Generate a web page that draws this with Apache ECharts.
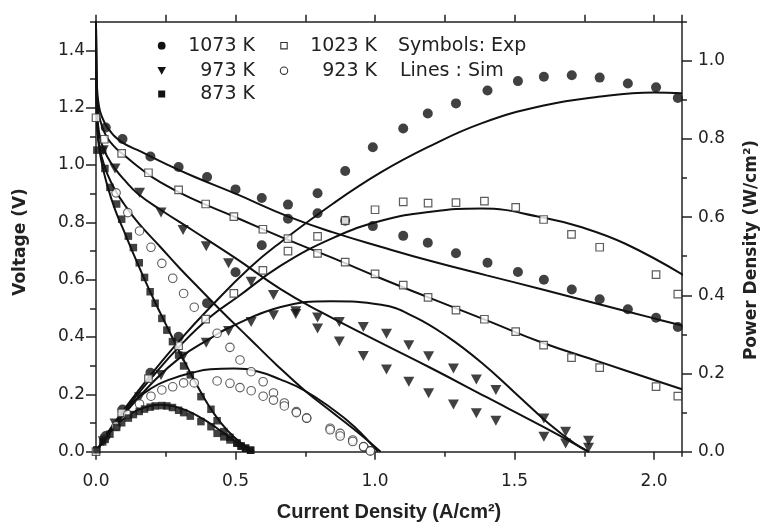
<!DOCTYPE html>
<html>
<head>
<meta charset="utf-8">
<script src="https://cdn.jsdelivr.net/npm/echarts@6/dist/echarts.min.js"></script>
<style>
  html, body { margin: 0; padding: 0; background: #fff; }
  #chart { width: 766px; height: 530px; }
</style>
</head>
<body>
<div id="chart"></div>
<script>
// ---- Experimental data (symbols): current density (A/cm2), voltage (V), power density (W/cm2)
const I1073 = [0.035, 0.095, 0.195, 0.296, 0.398, 0.5, 0.594, 0.688, 0.794, 0.893, 0.992, 1.101, 1.189, 1.29, 1.403, 1.512, 1.605, 1.705, 1.805, 1.906, 2.007, 2.085];
const V1073 = [1.131, 1.091, 1.030, 0.993, 0.958, 0.915, 0.885, 0.862, 0.832, 0.806, 0.787, 0.753, 0.729, 0.692, 0.659, 0.627, 0.600, 0.566, 0.532, 0.497, 0.467, 0.435];
const P1073 = [0.040, 0.108, 0.202, 0.294, 0.380, 0.459, 0.528, 0.596, 0.661, 0.718, 0.779, 0.827, 0.865, 0.891, 0.924, 0.948, 0.959, 0.963, 0.957, 0.942, 0.932, 0.905];

const I1023 = [0.0, 0.03, 0.092, 0.188, 0.296, 0.393, 0.494, 0.598, 0.688, 0.794, 0.893, 1.0, 1.101, 1.19, 1.29, 1.392, 1.504, 1.604, 1.704, 1.805, 2.007, 2.085];
const V1023 = [1.165, 1.09, 1.041, 0.973, 0.913, 0.864, 0.82, 0.776, 0.743, 0.692, 0.661, 0.62, 0.581, 0.538, 0.494, 0.462, 0.419, 0.372, 0.328, 0.293, 0.227, 0.194];
const P1023 = [0.0, 0.033, 0.0995, 0.187, 0.271, 0.339, 0.405, 0.464, 0.513, 0.551, 0.591, 0.619, 0.639, 0.636, 0.637, 0.641, 0.625, 0.594, 0.556, 0.523, 0.453, 0.403];

const I973 = [0.026, 0.068, 0.156, 0.233, 0.312, 0.395, 0.475, 0.556, 0.636, 0.716, 0.794, 0.872, 0.958, 1.041, 1.121, 1.192, 1.281, 1.363, 1.433, 1.605, 1.683, 1.765];
const V973 = [1.052, 0.988, 0.903, 0.834, 0.773, 0.717, 0.657, 0.593, 0.547, 0.490, 0.430, 0.384, 0.334, 0.287, 0.244, 0.204, 0.165, 0.134, 0.108, 0.052, 0.029, 0.014];
const P973 = [0.027, 0.072, 0.139, 0.196, 0.243, 0.279, 0.309, 0.332, 0.349, 0.352, 0.343, 0.332, 0.319, 0.302, 0.272, 0.244, 0.213, 0.185, 0.158, 0.085, 0.051, 0.028];

const I923 = [0.072, 0.114, 0.156, 0.197, 0.236, 0.275, 0.314, 0.352, 0.434, 0.48, 0.516, 0.556, 0.599, 0.636, 0.675, 0.718, 0.755, 0.839, 0.875, 0.92, 0.959, 0.983];
const V923 = [0.903, 0.834, 0.770, 0.713, 0.657, 0.605, 0.552, 0.504, 0.413, 0.364, 0.320, 0.279, 0.244, 0.205, 0.170, 0.140, 0.117, 0.082, 0.064, 0.041, 0.017, 0.003];
const P923 = [0.066, 0.095, 0.122, 0.142, 0.158, 0.166, 0.176, 0.176, 0.181, 0.175, 0.164, 0.156, 0.142, 0.132, 0.117, 0.100, 0.086, 0.056, 0.040, 0.026, 0.013, 0.002];

const I873 = [0.003, 0.024, 0.032, 0.05, 0.074, 0.092, 0.116, 0.134, 0.155, 0.174, 0.194, 0.212, 0.236, 0.254, 0.274, 0.296, 0.314, 0.338, 0.376, 0.412, 0.434, 0.458, 0.48, 0.505, 0.52, 0.536, 0.554];
const V873 = [1.052, 1.052, 0.988, 0.922, 0.864, 0.811, 0.752, 0.712, 0.659, 0.608, 0.558, 0.518, 0.465, 0.424, 0.384, 0.337, 0.299, 0.268, 0.192, 0.148, 0.108, 0.070, 0.050, 0.030, 0.020, 0.012, 0.005];
const P873 = [0.005, 0.025, 0.033, 0.045, 0.062, 0.074, 0.086, 0.095, 0.103, 0.109, 0.114, 0.117, 0.118, 0.117, 0.113, 0.106, 0.100, 0.091, 0.077, 0.064, 0.047, 0.038, 0.030, 0.022, 0.014, 0.009, 0.004];

// ---- Simulated curves (lines)
const simI1073V = [0, 0.002, 0.005, 0.01, 0.019, 0.043, 0.091, 0.163, 0.259, 0.35, 0.5, 0.69, 0.85, 1.02, 1.2, 1.4, 1.6, 1.8, 2.0, 2.1];
const simV1073  = [1.5, 1.31, 1.25, 1.21, 1.174, 1.128, 1.081, 1.046, 1.0, 0.96, 0.9, 0.82, 0.765, 0.715, 0.665, 0.615, 0.566, 0.515, 0.465, 0.44];
const simI1023V = [0, 0.002, 0.005, 0.01, 0.02, 0.04, 0.07, 0.1, 0.15, 0.23, 0.35, 0.5, 0.66, 0.85, 1.02, 1.2, 1.4, 1.6, 1.8, 2.0, 2.1];
const simV1023  = [1.5, 1.28, 1.22, 1.18, 1.14, 1.095, 1.06, 1.035, 0.995, 0.94, 0.88, 0.818, 0.75, 0.675, 0.605, 0.535, 0.458, 0.38, 0.315, 0.25, 0.218];
const simI973V  = [0, 0.002, 0.005, 0.01, 0.02, 0.04, 0.07, 0.1, 0.15, 0.23, 0.35, 0.5, 0.66, 0.8, 1.0, 1.2, 1.4, 1.6, 1.765];
const simV973   = [1.5, 1.25, 1.17, 1.12, 1.075, 1.03, 0.985, 0.95, 0.9, 0.845, 0.77, 0.675, 0.568, 0.49, 0.39, 0.292, 0.19, 0.088, 0.0];
const simI923V  = [0, 0.002, 0.005, 0.01, 0.02, 0.04, 0.07, 0.1, 0.15, 0.23, 0.3, 0.374, 0.45, 0.55, 0.65, 0.75, 0.85, 0.95, 1.02];
const simV923   = [1.5, 1.22, 1.13, 1.08, 1.03, 0.97, 0.91, 0.865, 0.8, 0.715, 0.64, 0.566, 0.49, 0.395, 0.3, 0.212, 0.135, 0.058, 0.0];
const simI873V  = [0, 0.002, 0.005, 0.01, 0.02, 0.04, 0.07, 0.1, 0.13, 0.17, 0.21, 0.25, 0.29, 0.338, 0.38, 0.422, 0.47, 0.52, 0.566];
const simV873   = [1.5, 1.2, 1.12, 1.07, 1.01, 0.93, 0.84, 0.77, 0.7, 0.61, 0.525, 0.445, 0.366, 0.275, 0.2, 0.134, 0.075, 0.03, 0.0];

const simI1073P = [0, 0.05, 0.1, 0.2, 0.3, 0.41, 0.55, 0.662, 0.85, 1.022, 1.189, 1.381, 1.6, 1.8, 2.0, 2.1];
const simP1073  = [0, 0.057, 0.108, 0.2, 0.285, 0.37, 0.47, 0.536, 0.635, 0.715, 0.779, 0.84, 0.885, 0.908, 0.919, 0.917];
const simI1023P = [0, 0.05, 0.1, 0.2, 0.3, 0.41, 0.506, 0.662, 0.85, 1.022, 1.2, 1.381, 1.597, 1.741, 1.897, 2.107];
const simP1023  = [0, 0.055, 0.103, 0.19, 0.27, 0.345, 0.395, 0.476, 0.547, 0.591, 0.614, 0.622, 0.6, 0.574, 0.532, 0.451];
const simI973P  = [0, 0.05, 0.1, 0.2, 0.3, 0.41, 0.482, 0.662, 0.842, 1.022, 1.141, 1.262, 1.381, 1.501, 1.621, 1.717, 1.765];
const simP973   = [0, 0.05, 0.095, 0.175, 0.24, 0.29, 0.319, 0.37, 0.385, 0.376, 0.345, 0.293, 0.228, 0.151, 0.073, 0.02, 0];
const simI923P  = [0, 0.05, 0.116, 0.2, 0.266, 0.35, 0.41, 0.494, 0.58, 0.66, 0.746, 0.84, 0.926, 1.01];
const simP923   = [0, 0.05, 0.115, 0.163, 0.185, 0.203, 0.211, 0.213, 0.205, 0.185, 0.157, 0.113, 0.064, 0];
const simI873P  = [0, 0.03, 0.06, 0.1, 0.15, 0.2, 0.23, 0.28, 0.33, 0.38, 0.43, 0.48, 0.52, 0.566];
const simP873   = [0, 0.03, 0.058, 0.085, 0.107, 0.118, 0.12, 0.116, 0.104, 0.085, 0.062, 0.036, 0.016, 0];

// ---- Legend labels
const tempLabels = ['1073 K', '1023 K', '973 K', '923 K', '873 K'];
const noteLabels = ['Symbols: Exp', 'Lines : Sim'];

const pairs = (xs, ys) => xs.map((x, i) => [x, ys[i]]);

const INK = '#111';
const AXC = '#222';
const TICK_FONT = { fontFamily: 'DejaVu Sans', fontSize: 17, color: '#222' };

const markerStyles = {
  '1073 K': { symbol: 'circle', symbolSize: 10, symbolRotate: 0, itemStyle: { color: INK } },
  '1023 K': { symbol: 'rect', symbolSize: 7.5, symbolRotate: 0, itemStyle: { color: '#fff', borderColor: '#333', borderWidth: 1.2 } },
  '973 K':  { symbol: 'triangle', symbolSize: [11, 10], symbolRotate: 180, itemStyle: { color: INK } },
  '923 K':  { symbol: 'circle', symbolSize: 8.5, symbolRotate: 0, itemStyle: { color: '#fff', borderColor: '#333', borderWidth: 1.1 } },
  '873 K':  { symbol: 'rect', symbolSize: 7.5, symbolRotate: 0, itemStyle: { color: INK } }
};

const expSets = [
  ['1073 K', I1073, V1073, P1073],
  ['1023 K', I1023, V1023, P1023],
  ['973 K', I973, V973, P973],
  ['923 K', I923, V923, P923],
  ['873 K', I873, V873, P873]
];
const simSets = [
  [simI1073V, simV1073, simI1073P, simP1073],
  [simI1023V, simV1023, simI1023P, simP1023],
  [simI973V, simV973, simI973P, simP973],
  [simI923V, simV923, simI923P, simP923],
  [simI873V, simV873, simI873P, simP873]
];

const series = [];
simSets.forEach(([iv, v, ip, p]) => {
  const base = {
    type: 'line', showSymbol: false, smooth: 0.45,
    lineStyle: { color: INK, width: 2 }, z: 2, silent: true, clip: true
  };
  series.push(Object.assign({}, base, { xAxisIndex: 0, yAxisIndex: 0, data: pairs(iv, v) }));
  series.push(Object.assign({}, base, { xAxisIndex: 0, yAxisIndex: 1, data: pairs(ip, p) }));
});
expSets.forEach(([name, i, v, p]) => {
  const m = markerStyles[name];
  const base = {
    type: 'scatter', name: name, symbol: m.symbol, symbolSize: m.symbolSize,
    symbolRotate: m.symbolRotate, itemStyle: m.itemStyle, z: 3, silent: true
  };
  series.push(Object.assign({}, base, { xAxisIndex: 0, yAxisIndex: 0, data: pairs(i, v) }));
  series.push(Object.assign({}, base, { xAxisIndex: 0, yAxisIndex: 1, data: pairs(i, p) }));
});

const fmt1 = v => v.toFixed(1);
const lineSt = { color: AXC, width: 1.5 };

function valueAxis(extra) {
  return Object.assign({
    type: 'value', splitLine: { show: false },
    axisLine: { show: false, onZero: false, lineStyle: lineSt },
    axisTick: { show: true, inside: false, lineStyle: lineSt },
    axisLabel: { show: false }
  }, extra);
}

// ---- Legend drawn as graphic elements
const LEG_FONT = '19px "DejaVu Sans"';
const legendText = (text, x, y, align) => ({
  type: 'text', x: x, y: y, silent: true,
  style: { text: text, font: LEG_FONT, fill: '#222', align: align, verticalAlign: 'middle' }
});
const rowY = [45.7, 70.7, 94];
const graphic = [
  { type: 'circle', shape: { cx: 161.7, cy: rowY[0], r: 3.9 }, style: { fill: INK }, silent: true },
  { type: 'polygon', shape: { points: [[157.4, rowY[1] - 3.8], [166, rowY[1] - 3.8], [161.7, rowY[1] + 4]] }, style: { fill: INK }, silent: true },
  { type: 'rect', shape: { x: 158.2, y: rowY[2] - 3.5, width: 7, height: 7 }, style: { fill: INK }, silent: true },
  { type: 'rect', shape: { x: 280.8, y: rowY[0] - 3.2, width: 6.4, height: 6.4 }, style: { fill: '#fff', stroke: '#333', lineWidth: 1.1 }, silent: true },
  { type: 'circle', shape: { cx: 284, cy: rowY[1], r: 3.7 }, style: { fill: '#fff', stroke: '#333', lineWidth: 1.1 }, silent: true },
  legendText(tempLabels[0], 255, rowY[0], 'right'),
  legendText(tempLabels[2], 255, rowY[1], 'right'),
  legendText(tempLabels[4], 255, rowY[2], 'right'),
  legendText(tempLabels[1], 377, rowY[0], 'right'),
  legendText(tempLabels[3], 377, rowY[1], 'right'),
  legendText(noteLabels[0], 398, rowY[0], 'left'),
  legendText(noteLabels[1], 400, rowY[1], 'left'),
  // axis titles
  { type: 'text', x: 21, y: 242, rotation: Math.PI / 2, silent: true,
    style: { text: 'Voltage (V)', font: 'bold 17px "DejaVu Sans"', fill: '#222', align: 'center', verticalAlign: 'middle' } },
  { type: 'text', x: 752, y: 250, rotation: Math.PI / 2, silent: true,
    style: { text: 'Power Density (W/cm²)', font: 'bold 17px "DejaVu Sans"', fill: '#222', align: 'center', verticalAlign: 'middle' } },
  { type: 'text', x: 389, y: 512, silent: true,
    style: { text: 'Current Density (A/cm²)', font: 'bold 20px "Liberation Sans"', fill: '#222', align: 'center', verticalAlign: 'middle' } }
];

const option = {
  animation: false,
  backgroundColor: '#fff',
  grid: { left: 96, top: 21.7, width: 586, height: 430, containLabel: false },
  xAxis: [
    valueAxis({ position: 'bottom', min: 0, max: 2.1, interval: 0.5,
      axisLine: { show: true, onZero: false, lineStyle: lineSt },
      axisTick: { show: true, inside: false, length: 8, lineStyle: lineSt },
      axisLabel: Object.assign({ show: true, margin: 21, showMaxLabel: false, formatter: fmt1 }, TICK_FONT) }),
    valueAxis({ position: 'bottom', min: 0, max: 2.1, interval: 0.25,
      axisTick: { show: true, inside: false, length: 5, lineStyle: lineSt } }),
    valueAxis({ position: 'top', min: 0, max: 2.1, interval: 0.25,
      axisLine: { show: true, onZero: false, lineStyle: lineSt },
      axisTick: { show: true, inside: false, length: 7, lineStyle: lineSt } })
  ],
  yAxis: [
    valueAxis({ position: 'left', min: 0, max: 1.5, interval: 0.2,
      axisLine: { show: true, onZero: false, lineStyle: lineSt },
      axisTick: { show: true, inside: false, length: 10, lineStyle: lineSt },
      axisLabel: Object.assign({ show: true, margin: 11, showMaxLabel: false, formatter: fmt1 }, TICK_FONT) }),
    valueAxis({ position: 'right', min: 0, max: 1.1, interval: 0.2,
      axisLine: { show: true, onZero: false, lineStyle: lineSt },
      axisTick: { show: true, inside: false, length: 10, lineStyle: lineSt },
      axisLabel: Object.assign({ show: true, margin: 16, showMaxLabel: false, formatter: fmt1 }, TICK_FONT) }),
    valueAxis({ position: 'left', min: 0, max: 1.5, interval: 0.1,
      axisTick: { show: true, inside: false, length: 6, lineStyle: lineSt } }),
    valueAxis({ position: 'right', min: 0, max: 1.1, interval: 0.1,
      axisTick: { show: true, inside: false, length: 5, lineStyle: lineSt } })
  ],
  series: series,
  graphic: graphic
};

const chart = echarts.init(document.getElementById('chart'), null, { renderer: 'canvas' });
chart.setOption(option);
</script>
</body>
</html>
